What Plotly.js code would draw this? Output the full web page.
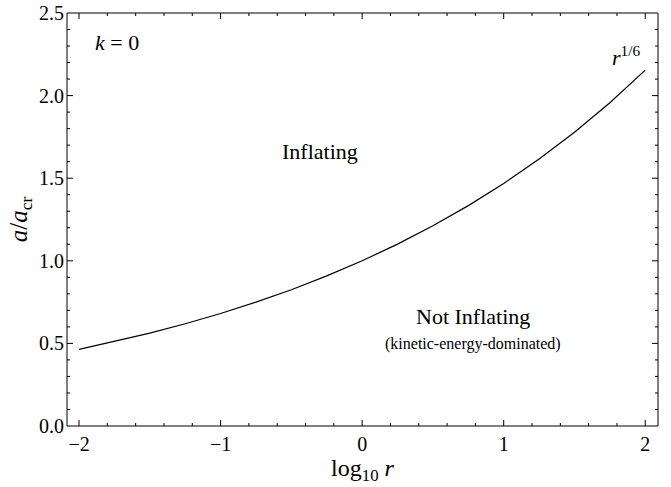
<!DOCTYPE html>
<html><head><meta charset="utf-8">
<script src="https://cdn.plot.ly/plotly-3.0.1.min.js"></script>
<style>html,body{margin:0;padding:0;background:#fff}#g{width:671px;height:487px}</style>
</head><body><div id="g"></div>
<script>
const log10r = [-2, -1.75, -1.5, -1.25, -1, -0.75, -0.5, -0.25, 0, 0.25, 0.5, 0.75, 1, 1.25, 1.5, 1.75, 2];
const aOverAcr = [0.464, 0.511, 0.562, 0.619, 0.681, 0.750, 0.825, 0.909, 1.0, 1.101, 1.212, 1.334, 1.468, 1.616, 1.778, 1.957, 2.154];
const xTicks = [-2, -1, 0, 1, 2];
const xTickText = ['\u22122', '\u22121', '0', '1', '2'];
const yTicks = [0.0, 0.5, 1.0, 1.5, 2.0, 2.5];
const xMinorStep = 0.2, yMinorStep = 0.1;

const F = 'Liberation Serif, Times New Roman, serif';
const xRange = [-2.085, 2.09], yRange = [0, 2.5];
const W = 671, H = 487, M = {l: 67, r: 13, t: 13, b: 61};
const xPerPx = (xRange[1] - xRange[0]) / (W - M.l - M.r);
const yPerPx = (yRange[1] - yRange[0]) / (H - M.t - M.b);

// Frame and tick marks (axis decoration) built from the tick arrays
const shapes = [{type: 'rect', xref: 'paper', yref: 'paper', x0: 0, x1: 1, y0: 0, y1: 1, line: {color: '#000', width: 1}}];
function xTick(v, len) {
  const d = len * yPerPx;
  shapes.push({type: 'line', xref: 'x', yref: 'y', x0: v, x1: v, y0: yRange[0], y1: yRange[0] + d, line: {color: '#000', width: 1}});
  shapes.push({type: 'line', xref: 'x', yref: 'y', x0: v, x1: v, y0: yRange[1], y1: yRange[1] - d, line: {color: '#000', width: 1}});
}
function yTick(v, len) {
  const d = len * xPerPx;
  shapes.push({type: 'line', xref: 'x', yref: 'y', y0: v, y1: v, x0: xRange[0], x1: xRange[0] + d, line: {color: '#000', width: 1}});
  shapes.push({type: 'line', xref: 'x', yref: 'y', y0: v, y1: v, x0: xRange[1], x1: xRange[1] - d, line: {color: '#000', width: 1}});
}
xTicks.forEach(v => xTick(v, 6));
yTicks.forEach(v => { if (v > yRange[0] && v < yRange[1]) yTick(v, 6); });
for (let i = Math.ceil(xRange[0] / xMinorStep); i <= Math.floor(xRange[1] / xMinorStep); i++) {
  const v = +(i * xMinorStep).toFixed(3);
  if (!xTicks.includes(v)) xTick(v, 3);
}
for (let i = 1; i < Math.round((yRange[1] - yRange[0]) / yMinorStep); i++) {
  const v = +(i * yMinorStep).toFixed(3);
  if (!yTicks.includes(v)) yTick(v, 3);
}

const layout = {
  width: W, height: H,
  margin: M,
  paper_bgcolor: '#fff', plot_bgcolor: '#fff',
  showlegend: false,
  shapes: shapes,
  xaxis: {
    showgrid: false, zeroline: false, showline: false, ticks: '',
    tickfont: {family: F, size: 20, color: '#000'}, ticklabelstandoff: 4,
    range: xRange, tickmode: 'array', tickvals: xTicks, ticktext: xTickText,
    title: {text: 'log<sub>10</sub> <i>r</i>', font: {family: F, size: 24, color: '#000'}, standoff: 4}
  },
  yaxis: {
    showgrid: false, zeroline: false, showline: false, ticks: '',
    tickfont: {family: F, size: 20, color: '#000'}, ticklabelstandoff: 2,
    range: yRange, tickmode: 'array', tickvals: yTicks, tickformat: '.1f',
    title: {text: '<i>a</i>/<i>a</i><sub>cr</sub>', font: {family: F, size: 25, color: '#000'}, standoff: 4}
  },
  annotations: [
    {x: -1.73, y: 2.32, xref: 'x', yref: 'y', text: '<i>k</i> = 0', showarrow: false, font: {family: F, size: 22, color: '#000'}},
    {x: 1.87, y: 2.24, xref: 'x', yref: 'y', text: '<i>r</i><sup>1/6</sup>', showarrow: false, font: {family: F, size: 22, color: '#000'}},
    {x: -0.3, y: 1.66, xref: 'x', yref: 'y', text: 'Inflating', showarrow: false, font: {family: F, size: 22, color: '#000'}},
    {x: 0.78, y: 0.66, xref: 'x', yref: 'y', text: 'Not Inflating', showarrow: false, font: {family: F, size: 22, color: '#000'}},
    {x: 0.78, y: 0.495, xref: 'x', yref: 'y', text: '(kinetic-energy-dominated)', showarrow: false, font: {family: F, size: 16, color: '#000'}}
  ]
};
Plotly.newPlot('g', [{
  x: log10r, y: aOverAcr, type: 'scatter', mode: 'lines',
  line: {color: '#000', width: 1.2, shape: 'linear'}, hoverinfo: 'skip'
}], layout, {displayModeBar: false});
</script></body></html>
